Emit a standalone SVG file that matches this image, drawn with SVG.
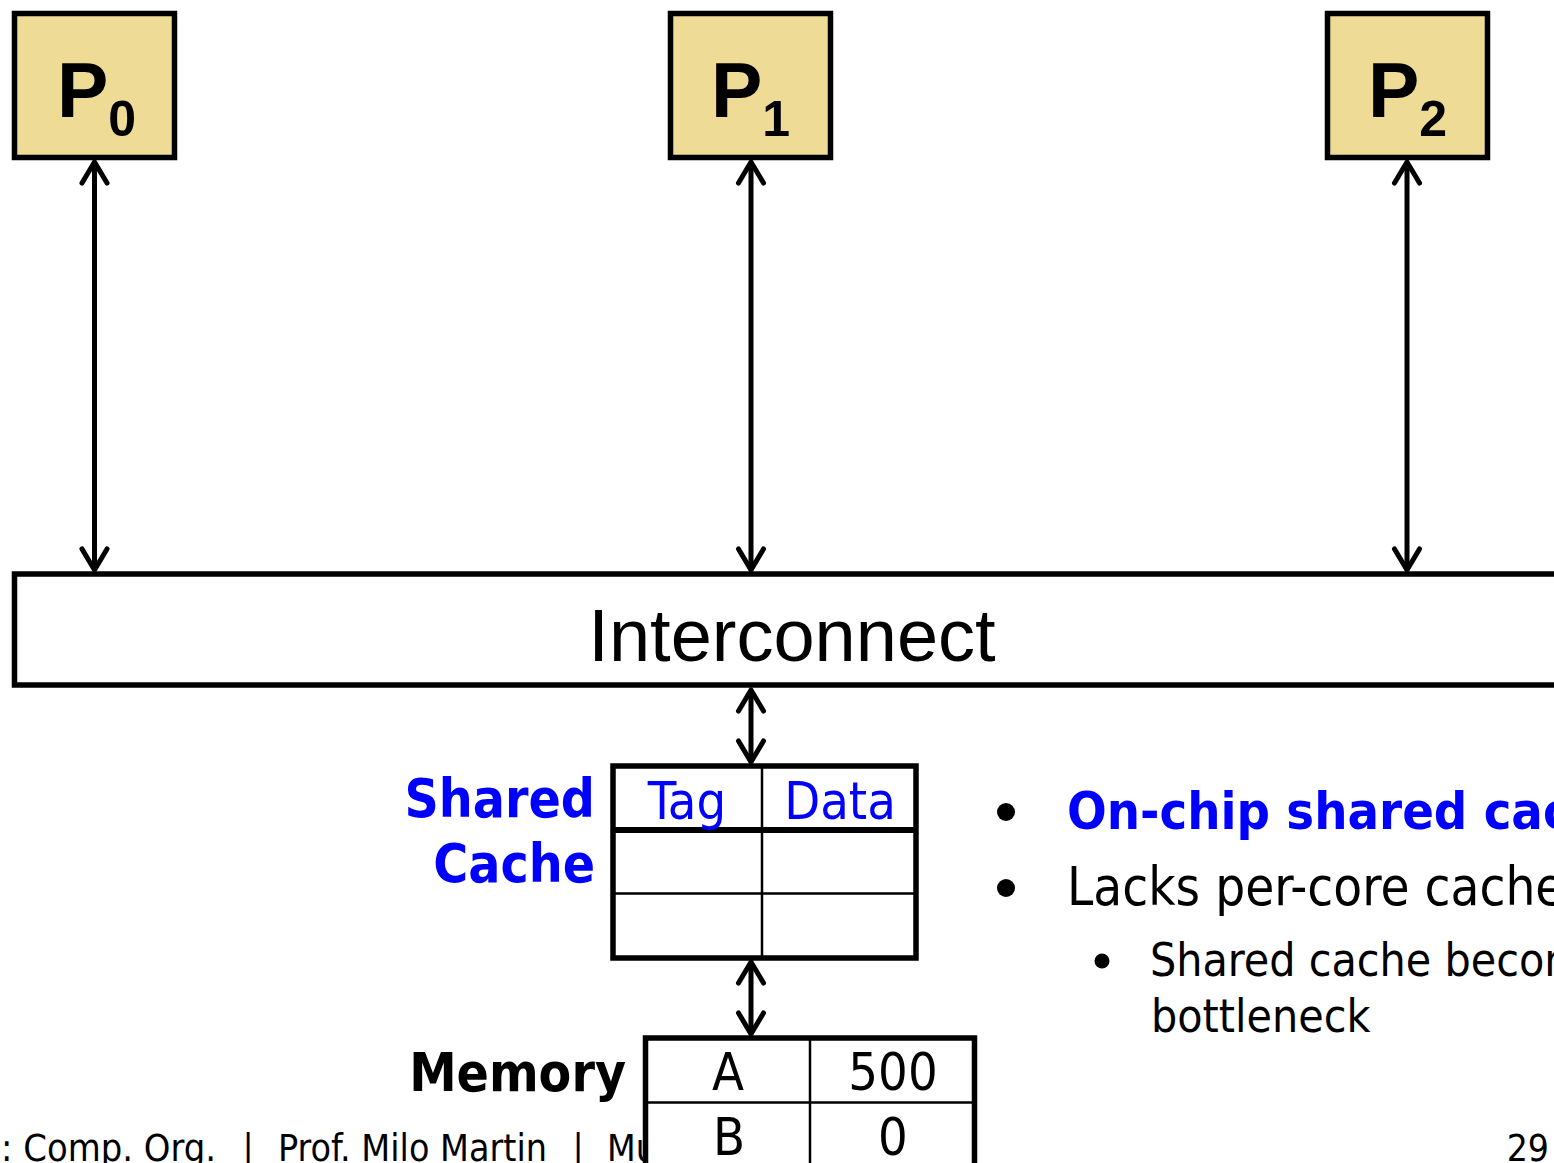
<svg xmlns="http://www.w3.org/2000/svg" width="1554" height="1163" viewBox="0 0 1554 1163">
<style>
.proc{fill:#EEDC96;stroke:#000;stroke-width:5.5}
.ptxt{font-family:"Liberation Sans",Arial,sans-serif;font-weight:bold;fill:#000}
.box{fill:#fff;stroke:#000;stroke-width:5.5}
.thin{stroke:#000;stroke-width:2.5}
.thick{stroke:#000;stroke-width:6}
.conn{stroke:#000;stroke-width:5;fill:none;marker-start:url(#ah);marker-end:url(#ah)}
.cond{font-family:"DejaVu Sans Condensed","DejaVu Sans",sans-serif;font-stretch:condensed}
.blue{fill:#0000FF}
.blk{fill:#000}
.bold{font-weight:bold}
</style>
<defs>
<marker id="ah" markerUnits="userSpaceOnUse" orient="auto-start-reverse" refX="0" refY="0" markerWidth="40" markerHeight="40" viewBox="-30 -20 40 40" overflow="visible">
<path d="M -21 -12.5 L 0 0 L -21 12.5" fill="none" stroke="#000" stroke-width="5" stroke-linecap="round" stroke-linejoin="round"/>
</marker>
</defs>
<rect width="1554" height="1163" fill="#fff"/>

<g id="connectors">
<line class="conn" x1="94.5" y1="162" x2="94.5" y2="570"/>
<line class="conn" x1="751" y1="162" x2="751" y2="570"/>
<line class="conn" x1="1407" y1="162" x2="1407" y2="570"/>
<line class="conn" x1="751" y1="690" x2="751" y2="762"/>
<line class="conn" x1="751" y1="962" x2="751" y2="1034"/>
</g>

<g id="P0">
<rect class="proc" x="14.5" y="13.5" width="160" height="144"/>
<text class="ptxt" x="57" y="117" font-size="77">P<tspan font-size="50" dy="19">0</tspan></text>
</g>
<g id="P1">
<rect class="proc" x="670.5" y="13.5" width="160" height="144"/>
<text class="ptxt" x="711" y="117" font-size="77">P<tspan font-size="50" dy="19">1</tspan></text>
</g>
<g id="P2">
<rect class="proc" x="1327.5" y="13.5" width="160" height="144"/>
<text class="ptxt" x="1368" y="117" font-size="77">P<tspan font-size="50" dy="19">2</tspan></text>
</g>

<g id="interconnect">
<rect class="box" x="14.5" y="574" width="1600" height="111"/>
<text x="792" y="661" font-size="74" text-anchor="middle" font-family="Liberation Sans, Arial, sans-serif" fill="#000">Interconnect</text>
</g>

<g id="shared-cache">
<text class="cond bold blue" x="595" y="817" font-size="53" text-anchor="end">Shared</text>
<text class="cond bold blue" x="595" y="882" font-size="53" text-anchor="end">Cache</text>
<rect class="box" x="613" y="766" width="303" height="192" stroke-width="6"/>
<line class="thick" x1="613" y1="830" x2="916" y2="830"/>
<line class="thin" x1="613" y1="893.5" x2="916" y2="893.5"/>
<line class="thin" x1="762" y1="766" x2="762" y2="958"/>
<text class="cond blue" x="687" y="819" font-size="52" text-anchor="middle">Tag</text>
<text class="cond blue" x="840" y="819" font-size="52" text-anchor="middle">Data</text>
</g>

<g id="footer">
<text class="cond blk" x="1" y="1161" font-size="37" textLength="215" lengthAdjust="spacingAndGlyphs">: Comp. Org.</text>
<text class="cond blk" x="248" y="1161" font-size="37" text-anchor="middle">|</text>
<text class="cond blk" x="278" y="1161" font-size="37" textLength="269" lengthAdjust="spacingAndGlyphs">Prof. Milo Martin</text>
<text class="cond blk" x="578" y="1161" font-size="37" text-anchor="middle">|</text>
<text class="cond blk" x="607" y="1161" font-size="37">Mu</text>
<text class="cond blk" x="1549" y="1161" font-size="37" text-anchor="end">29</text>
</g>

<g id="memory">
<text class="cond bold blk" x="626" y="1091" font-size="53" text-anchor="end">Memory</text>
<rect class="box" x="645.5" y="1038" width="329" height="200"/>
<line class="thin" x1="645" y1="1102.5" x2="975" y2="1102.5"/>
<line class="thin" x1="810" y1="1038" x2="810" y2="1170"/>
<text class="cond blk" x="728" y="1090" font-size="52" text-anchor="middle">A</text>
<text class="cond blk" x="893" y="1090" font-size="52" text-anchor="middle">500</text>
<text class="cond blk" x="729" y="1155" font-size="52" text-anchor="middle">B</text>
<text class="cond blk" x="893" y="1155" font-size="52" text-anchor="middle">0</text>
</g>

<g id="bullets">
<circle cx="1006" cy="812" r="9" fill="#000"/>
<text class="cond bold blue" x="1067" y="829" font-size="52">On-chip shared cache</text>
<circle cx="1006" cy="888" r="9" fill="#000"/>
<text class="cond blk" x="1067" y="905" font-size="52.5">Lacks per-core cache</text>
<circle cx="1102" cy="961" r="7.5" fill="#000"/>
<text class="cond blk" x="1150" y="976" font-size="46">Shared cache becomes</text>
<text class="cond blk" x="1151" y="1032" font-size="46">bottleneck</text>
</g>
</svg>
